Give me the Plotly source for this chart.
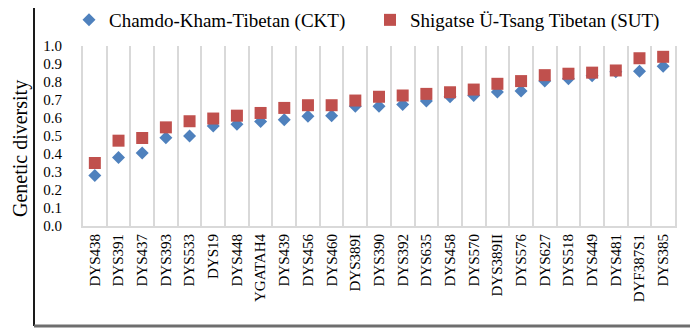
import plotly.graph_objects as go

categories = ["DYS438", "DYS391", "DYS437", "DYS393", "DYS533", "DYS19", "DYS448",
              "YGATAH4", "DYS439", "DYS456", "DYS460", "DYS389I", "DYS390", "DYS392",
              "DYS635", "DYS458", "DYS570", "DYS389II", "DYS576", "DYS627", "DYS518",
              "DYS449", "DYS481", "DYF387S1", "DYS385"]
ckt_values = [0.28, 0.38, 0.405, 0.49, 0.50, 0.555, 0.565, 0.58, 0.59, 0.61, 0.613,
              0.665, 0.665, 0.675, 0.695, 0.718, 0.725, 0.745, 0.75, 0.805, 0.818,
              0.835, 0.857, 0.86, 0.888]
sut_values = [0.35, 0.474, 0.489, 0.548, 0.582, 0.597, 0.613, 0.628, 0.656, 0.671,
              0.671, 0.697, 0.718, 0.725, 0.734, 0.743, 0.758, 0.79, 0.805, 0.838,
              0.846, 0.852, 0.864, 0.932, 0.94]
y_ticks = [0.0, 0.1, 0.2, 0.3, 0.4, 0.5, 0.6, 0.7, 0.8, 0.9, 1.0]

FONT = "Liberation Serif, Times New Roman, serif"

fig = go.Figure()
fig.add_trace(go.Scatter(
    x=categories, y=ckt_values, mode="markers", name="Chamdo-Kham-Tibetan (CKT)",
    marker=dict(symbol="diamond", size=10, color="#4F81BD", line=dict(width=0)),
))
fig.add_trace(go.Scatter(
    x=categories, y=sut_values, mode="markers", name="Shigatse Ü-Tsang Tibetan (SUT)",
    marker=dict(symbol="square", size=12, color="#C0504D", line=dict(width=0)),
))

# page offset of the figure div (default body margin)
OFF = 8
FW, FH = 698 - OFF, 328 - OFF
# desired plot area in window pixels: x 83..675, y 46..226
L, R, T, B = 83, 675, 46, 226
W, H = R - L, B - T
def px(x):
    return (x - L) / W
def py(y):
    return (B - y) / H

fig.update_layout(
    width=FW, height=FH,
    margin=dict(l=L - OFF, r=FW - (R - OFF), t=T - OFF, b=FH - (B - OFF),
                autoexpand=False),
    paper_bgcolor="white", plot_bgcolor="white",
    font=dict(family=FONT, color="#000000"),
    showlegend=True,
    legend=dict(orientation="h", x=px(69), xanchor="left", y=py(20), yanchor="middle",
                font=dict(family=FONT, size=19, color="#000"), entrywidth=256,
                itemwidth=30, bgcolor="rgba(0,0,0,0)"),
    xaxis=dict(
        type="category", tickson="boundaries", showgrid=True, gridcolor="#d9d9d9",
        gridwidth=2, showline=True, linecolor="#d9d9d9", linewidth=2,
        tickangle=-90, tickfont=dict(family=FONT, size=15, color="#000"),
        ticks="", range=[-0.5, len(categories) - 0.5],
    ),
    yaxis=dict(
        range=[0, 1], tickvals=y_ticks, tickformat=".1f", showgrid=False,
        zeroline=False, showline=True, mirror=True, linecolor="#d9d9d9", linewidth=2,
        tickfont=dict(family=FONT, size=15, color="#000"), ticks="",
        ticklabelstandoff=16,
    ),
    annotations=[dict(
        text="Genetic diversity", textangle=-90, x=px(20), y=py(149),
        xanchor="center", yanchor="middle",
        xref="paper", yref="paper", showarrow=False,
        font=dict(family=FONT, size=20, color="#000"),
    )],
    shapes=[
        dict(type="line", xref="paper", yref="paper", x0=px(34), x1=px(34),
             y0=py(-5), y1=py(326), line=dict(color="#1a1a1a", width=2)),
        dict(type="line", xref="paper", yref="paper", x0=px(695.5), x1=px(695.5),
             y0=py(-5), y1=py(326), line=dict(color="#6e6e6e", width=3)),
        dict(type="line", xref="paper", yref="paper", x0=px(34), x1=px(697),
             y0=py(326), y1=py(326), line=dict(color="#6e6e6e", width=3)),
    ],
)

fig.write_html("out.html")
